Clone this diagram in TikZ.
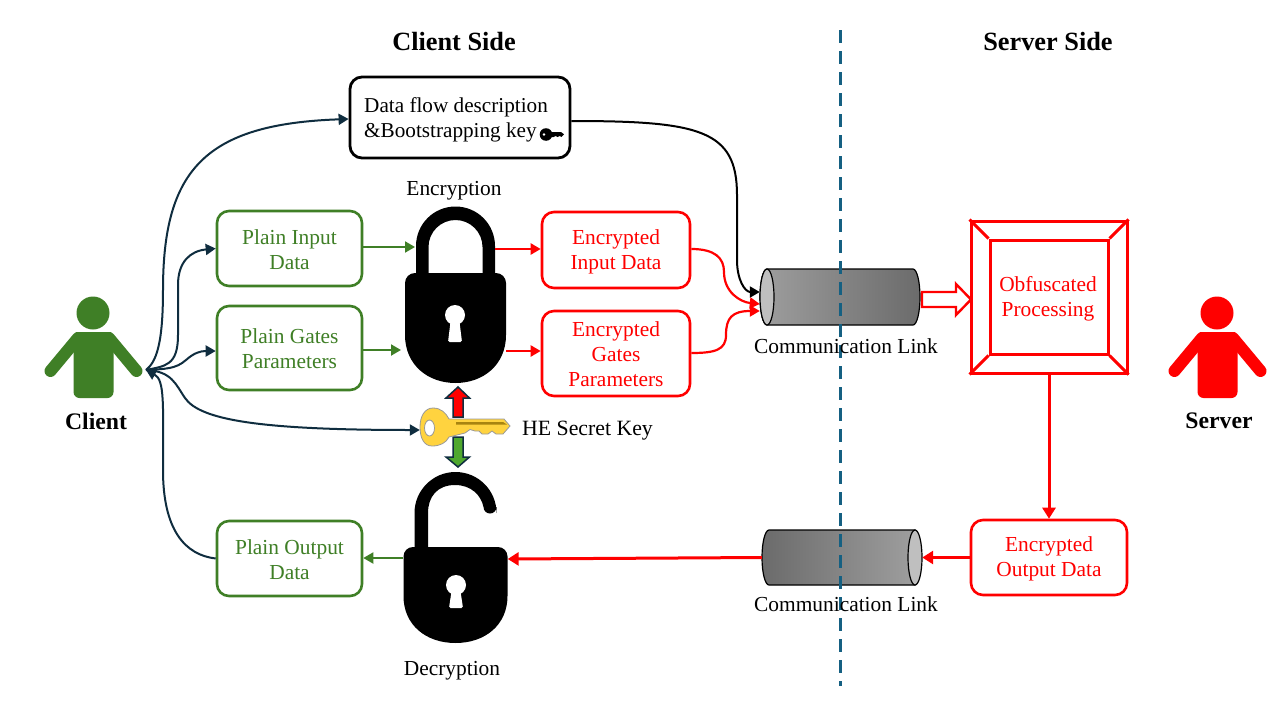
\documentclass[tikz,border=0pt]{standalone}
\usepackage{fontspec}
\setmainfont{Liberation Serif}
\usetikzlibrary{arrows.meta}
\definecolor{cgreen}{HTML}{3F7F26}
\definecolor{cred}{HTML}{FF0000}
\definecolor{cnavy}{HTML}{0F2D3F}
\definecolor{cdash}{HTML}{156082}
\definecolor{ckey}{HTML}{FFD33F}
\definecolor{ckeyd}{HTML}{A88410}
\definecolor{cgarrow}{HTML}{4FA82E}
\newcommand{\bodyfont}{\fontsize{21.4}{25}\selectfont}
\tikzset{
 boxbase/.style={rounded corners=12pt,inner sep=0pt,align=center,font=\bodyfont,fill=white},
 greenbox/.style={boxbase,draw=cgreen,line width=2.6pt,text=cgreen,minimum width=145pt},
 redbox/.style={boxbase,draw=cred,line width=2.6pt,text=cred,minimum width=148pt},
 blackbox/.style={boxbase,draw=black,line width=2.8pt},
 lbl/.style={inner sep=0pt,font=\bodyfont,align=center},
 title/.style={inner sep=0pt,font=\fontsize{26.3}{30}\bfseries\selectfont},
 who/.style={inner sep=0pt,font=\fontsize{23.7}{27}\bfseries\selectfont},
 anchorbox/.style={inner sep=0pt,minimum size=0pt},
 boxtext/.style={inner sep=0pt,font=\bodyfont,align=center},
 navyline/.style={cnavy,line width=2pt,-{Triangle[length=10pt,width=11pt]}},
 greenline/.style={cgreen,line width=2pt,-{Triangle[length=10pt,width=11pt]}},
 redline/.style={cred,line width=2.2pt,-{Triangle[length=10pt,width=11pt]}},
 thickred/.style={cred,line width=3pt,-{Triangle[length=11pt,width=13pt]}},
 blackline/.style={black,line width=2pt,-{Triangle[length=10pt,width=11pt]}},
}
\begin{document}
\begin{tikzpicture}[x=1pt,y=-1pt]
\useasboundingbox (0,0) rectangle (1280,720);
\fill[white] (0,0) rectangle (1280,720);

% persons
\foreach \dx/\col in {0/cgreen,1124/cred}{
\begin{scope}[xshift=\dx pt]
 \fill[\col] (93,313) circle (16.5);
 \fill[\col,rounded corners=6pt] (73.5,398) -- (73.5,332) -- (113.5,332) -- (113.5,398) -- cycle;
 \fill[\col] (76,332) -- (111,332) -- (113.5,345) -- (73.5,345) -- cycle;
 \draw[\col,line width=12pt,line cap=round] (78,338) -- (50.5,371);
 \draw[\col,line width=12pt,line cap=round] (109,338) -- (136.5,371);
\end{scope}}
\coordinate (hub) at (146,370);
\node[who] (clientlbl) at (96,421) {Client};
\node[who] (serverlbl) at (1219,421) {Server};

\node[title] (cside) at (454,42) {Client Side};
\node[title] (sside) at (1048,42) {Server Side};

% boxes
\node[blackbox,minimum width=220pt,minimum height=81pt] (flow) at (460,117.5) {};
\node[inner sep=0pt,font=\fontsize{21.2}{25}\selectfont,align=left,anchor=west] (flowtxt) at (364,120) {Data flow description\\\&Bootstrapping key};
\node[greenbox,minimum height=75pt] (pin) at (289.5,248.5) {};
\node[boxtext,text=cgreen] (pintxt) at (289.5,250) {Plain Input\\Data};
\node[greenbox,minimum height=84pt] (pgate) at (289.5,348) {};
\node[boxtext,text=cgreen] (pgatetxt) at (289.5,349) {Plain Gates\\Parameters};
\node[greenbox,minimum height=75pt] (pout) at (289.5,558.5) {};
\node[boxtext,text=cgreen] (pouttxt) at (289.5,560) {Plain Output\\Data};
\node[redbox,minimum height=76pt] (ein) at (616,250) {};
\node[boxtext,text=cred] (eintxt) at (616,251.5) {Encrypted\\Input Data};
\node[redbox,minimum height=85pt] (egate) at (616,353.5) {};
\node[boxtext,text=cred] (egatetxt) at (616,354.5) {Encrypted\\Gates\\Parameters};
\node[redbox,minimum width=156pt,minimum height=75pt] (eout) at (1049,557.5) {};
\node[boxtext,text=cred] (eouttxt) at (1049,559) {Encrypted\\Output Data};

% small key
\begin{scope}
 \fill[black] (546,134.5) circle (6.3);
 \fill[white] (544,134.5) circle (1.4);
 \fill[black] (550,132) -- (561,132) -- (564,134.3) -- (561.5,137) -- (559.5,136) -- (557.5,137) -- (555.5,136) -- (553.5,137) -- (550,137) -- cycle;
\end{scope}

% obfuscated processing
\node[inner sep=0pt,draw=cred,line width=3pt,minimum width=156pt,minimum height=152pt,fill=white] (obf) at (1049,297) {};
\node[inner sep=0pt,draw=cred,line width=3pt,minimum width=118pt,minimum height=114pt] (obfin) at (1049,297) {};
\node[boxtext,text=cred] (obftxt) at (1048,298.5) {Obfuscated\\Processing};
\draw[cred,line width=3pt] (obf.north west)--(obfin.north west) (obf.north east)--(obfin.north east) (obf.south west)--(obfin.south west) (obf.south east)--(obfin.south east);

% cylinders
\shade[left color=black!38,right color=black!58,draw=black,line width=1.2pt]
 (767,269) -- (913,269) arc[start angle=-90,end angle=90,x radius=7,y radius=28] -- (767,325) arc[start angle=90,end angle=270,x radius=7,y radius=28] -- cycle;
\fill[black!25] (767,297) ellipse (7 and 28);
\draw[black,line width=1.2pt] (767,297) ellipse (7 and 28);
\node[anchorbox,minimum width=160pt,minimum height=56pt] (cyltop) at (840,297) {};
\shade[left color=black!58,right color=black!38,draw=black,line width=1.2pt]
 (769,530) -- (915,530) -- (915,585) -- (769,585) arc[start angle=90,end angle=270,x radius=7,y radius=27.5] -- cycle;
\fill[black!25] (915,557.5) ellipse (7 and 27.5);
\draw[black,line width=1.2pt] (915,557.5) ellipse (7 and 27.5);
\node[anchorbox,minimum width=160pt,minimum height=55pt] (cylbot) at (842,557.5) {};

% dashed divider
\coordinate (divtop) at (840,30);
\coordinate (divbot) at (840,686);
\draw[cdash,line width=3pt,dash pattern=on 13pt off 8pt] (divtop) -- (divbot);

\node[lbl] (linktop) at (846,346) {Communication Link};
\node[lbl] (linkbot) at (846,604) {Communication Link};

% locks
\begin{scope}
 \fill[black]
  (416,274) -- (416,246) arc[start angle=180,end angle=360,radius=39.5] -- (495,274) -- (482.5,274) -- (482.5,247) arc[start angle=360,end angle=180,radius=27] -- (428.5,274) -- cycle;
 \fill[black] (415,273) -- (496,273) arc[start angle=-90,end angle=0,radius=10] -- (506,335) .. controls (506,365) and (483,383) .. (455.5,383) .. controls (428,383) and (405,365) .. (405,335) -- (405,283) arc[start angle=180,end angle=270,radius=10] -- cycle;
 \fill[white] (455,315) circle (10);
 \fill[white,rounded corners=1.5pt] (451,318) -- (459,318) -- (462,342) -- (448,342) -- cycle;
\end{scope}
\begin{scope}
 \fill[black]
  (414.5,548) -- (414.5,513) arc[start angle=180,end angle=360,x radius=41,y radius=41] -- (496.5,507) arc[start angle=0,end angle=180,radius=6.5] -- (483.5,507) .. controls (481,495) and (471,485) .. (455,485) .. controls (437,485) and (428,497) .. (428,513) -- (428,548) -- cycle;
 \fill[black] (413,547) -- (498,547) arc[start angle=-90,end angle=0,radius=9.5] -- (507.5,596) .. controls (507.5,625) and (485,643) .. (455.5,643) .. controls (426,643) and (403.5,625) .. (403.5,596) -- (403.5,556.5) arc[start angle=180,end angle=270,radius=9.5] -- cycle;
 \fill[white] (456,585) circle (10);
 \fill[white,rounded corners=1.5pt] (452,588) -- (460,588) -- (463,608) -- (449,608) -- cycle;
\end{scope}
\node[anchorbox,minimum width=101pt,minimum height=176pt] (lockc) at (455.5,295) {};
\node[anchorbox,minimum width=104pt,minimum height=171pt] (locko) at (455.5,557.5) {};
\coordinate (lockinA) at (415,247);
\coordinate (lockinB) at (401,350);
\coordinate (lockoutA) at (495,249);
\coordinate (lockoutB) at (506,351);
\node[lbl] (enclbl) at (454,191) {Encryption};
\node[lbl] (declbl) at (452,671) {Decryption};

% vertical arrows around key
\draw[cnavy,line width=1.5pt,fill=cred] (453,417) -- (453,398) -- (446,398) -- (458,387) -- (469.5,398) -- (463,398) -- (463,417) -- cycle;
\draw[cnavy,line width=1.5pt,fill=cgarrow] (453,437) -- (453,457) -- (446,457) -- (458,467) -- (469.5,457) -- (463,457) -- (463,437) -- cycle;

% big key
\draw[black!40,line width=0.8pt,fill=ckey,even odd rule]
 (449,419) -- (504,419) -- (510,426) -- (503,434) -- (496,434) -- (492,431) -- (488,434) -- (482,434) -- (479,431) -- (475,431) -- (470,429.5) -- (465,433) -- (449,437)
 .. controls (446,443) and (440,446) .. (432,446) .. controls (424,446) and (420,438) .. (420,427) .. controls (420,416) and (425,408) .. (433,408) .. controls (441,408) and (446,413) .. (449,419) -- cycle
 (429.5,428) ellipse (5 and 8);
\fill[ckeyd] (456,422) -- (503,422) -- (507,424.5) -- (456,424.5) -- cycle;
\node[anchorbox,minimum width=90pt,minimum height=38pt] (key) at (465,427) {};
\node[inner sep=0pt,font=\fontsize{21.8}{24}\selectfont] (keylbl) at (587.5,430.5) {HE Secret Key};

% client connectors
\draw[navyline] (hub) .. controls (156,362) and (163,345) .. (163,290) .. controls (163,170) and (205,124) .. (flow.west |- 0,119);
\draw[navyline] (hub) .. controls (165,366) and (178,366) .. (178,335) -- (178,285) .. controls (178,262) and (190,251) .. (pin.west);
\draw[navyline] (hub) .. controls (165,369) and (176,369) .. (186,360) .. controls (194,353) and (200,351) .. (pgate.west |- 0,351);
\draw[navyline] (hub) .. controls (172,371) and (176,385) .. (185,398) .. controls (200,420) and (260,430) .. (key.west |- 0,430);
\draw[navyline] (pout.west) .. controls (185,555) and (163,530) .. (163,470) .. controls (163,405) and (165,380) .. (hub);

% green
\draw[greenline] (pin.east |- lockinA) -- (lockinA);
\draw[greenline] (pgate.east |- lockinB) -- (lockinB);
\draw[greenline] (locko.west |- 0,558) -- (pout.east |- 0,558);

% red from lock
\draw[redline] (lockoutA) -- (ein.west |- lockoutA);
\draw[redline] (lockoutB) -- (egate.west |- lockoutB);

% to cylinder
\draw[redline] (ein.east |- 0,249) .. controls (715,249) and (724,258) .. (724,272) .. controls (724,292) and (740,302) .. (cyltop.west |- 0,304);
\draw[redline] (egate.east |- 0,353) .. controls (715,353) and (726,350) .. (726,335) .. controls (726,318) and (732,311) .. (cyltop.west |- 0,311);
\draw[blackline] (flow.east |- 0,121) .. controls (700,121) and (737,130) .. (737,195) -- (737,260) .. controls (737,280) and (745,292) .. (cyltop.west |- 0,292);

% hollow arrow
\draw[cred,line width=2.4pt,fill=white] (922,292) -- (956,292) -- (956,284) -- (971,299.5) -- (956,315) -- (956,307) -- (922,307) -- cycle;

% server side connectors
\draw[thickred] (obf.south) -- (eout.north);
\draw[thickred] (eout.west) -- (cylbot.east);
\draw[thickred] (cylbot.west) -- (locko.east |- 0,559);
\end{tikzpicture}
\end{document}
